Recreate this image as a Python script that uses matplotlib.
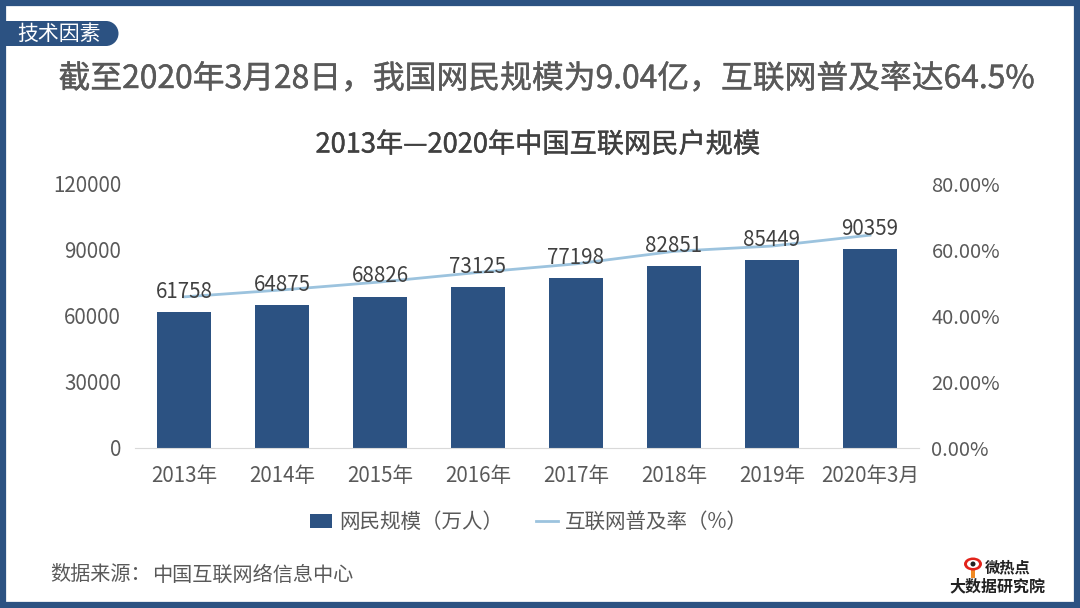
import numpy as np
import matplotlib.pyplot as plt
import matplotlib.patheffects as pe
from matplotlib.patches import Rectangle, Ellipse

plt.rcParams['font.family'] = ['Noto Sans CJK SC', 'DejaVu Sans']

barWidth = 0.55
fig = plt.figure(figsize =(10.8, 6.08), dpi = 100)

Years = ['2013年','2014年','2015年','2016年','2017年','2018年','2019年','2020年3月']
Users = [61758,64875,68826,73125,77198,82851,85449,90359]
Rate = [45.8,47.9,50.3,53.2,55.8,59.6,61.2,64.5]

#For Page Start#
plt.axes([0, 0, 1, 1])
plt.xlim(0, 1080)
plt.ylim(608, 0)
plt.axis('off')
page = plt.gca()
page.add_patch(Rectangle((3, 3), 1074, 602, fill = False, edgecolor ='#2c5282', linewidth = 4.5))
page.add_patch(Rectangle((0, 21), 106, 25, color ='#2c5282', linewidth = 0))
page.add_patch(Ellipse((106, 33.5), 25, 25, color ='#2c5282', linewidth = 0))
plt.text(59, 34, '技术因素', color ='white', fontsize = 15, ha ='center', va ='center')
thick = [pe.withStroke(linewidth = 0.3, foreground ='#595959')]
plt.text(546, 79, '截至2020年3月28日，我国网民规模为9.04亿，互联网普及率达64.5%', color ='#595959', fontsize = 22.9, ha ='center', va ='center', path_effects = thick)
thick = [pe.withStroke(linewidth = 0.3, foreground ='#404040')]
plt.text(538, 145, '2013年—2020年中国互联网民户规模', color ='#404040', fontsize = 19.6, ha ='center', va ='center', path_effects = thick)
plt.text(50, 575, '数据来源：', color ='#595959', fontsize = 14.5, va ='center')
plt.text(152, 575, '中国互联网络信息中心', color ='#595959', fontsize = 14.5, va ='center')
#logo
page.add_patch(Rectangle((971, 566), 4, 12, color ='#f08a24', linewidth = 0))
page.add_patch(Ellipse((973, 564), 18, 13, color ='#e2231a', linewidth = 0))
page.add_patch(Ellipse((973, 564), 12, 8, color ='white', linewidth = 0))
page.add_patch(Ellipse((973, 564), 5, 5, color ='#222222', linewidth = 0))
plt.text(1008, 567, '微热点', color ='#222222', fontsize = 11, fontweight ='bold', ha ='center', va ='center')
plt.text(997, 586, '大数据研究院', color ='#222222', fontsize = 11.5, fontweight ='bold', ha ='center', va ='center')
#For Page End#

#For Bar Chart Start#
plt.axes([135/1080, 1-448/608, 784/1080, 264/608], facecolor ='none')
br1 = np.arange(len(Users))
plt.bar(br1, Users, color ='#2c5282', width = barWidth, label ='网民规模（万人）')
plt.xlim(-0.5, 7.5)
plt.ylim(0, 120000)
plt.yticks([0,30000,60000,90000,120000], va ='center_baseline')
plt.xticks(br1, Years)
plt.tick_params(length = 0, labelsize = 14.8, labelcolor ='#595959')
plt.tick_params(axis ='x', pad = 12)
plt.tick_params(axis ='y', pad = 10)
ax1 = plt.gca()
for s in ['top','left','right']:
    ax1.spines[s].set_visible(False)
ax1.spines['bottom'].set_color('#d9d9d9')
#For Bar Chart End#

#For Line Chart Start#
plt.twinx()
plt.plot(br1, Rate, color ='#9cc3de', linewidth = 2, label ='互联网普及率（%）')
plt.ylim(0, 80)
plt.yticks([0,20,40,60,80], ['0.00%','20.00%','40.00%','60.00%','80.00%'], va ='center_baseline')
plt.tick_params(length = 0, labelsize = 14.5, labelcolor ='#595959', pad = 9)
ax2 = plt.gca()
for s in ['top','left','right','bottom']:
    ax2.spines[s].set_visible(False)
for i in range(len(Users)):
    plt.annotate(str(Users[i]), (i, Users[i]/1500), xytext =(0, 14.5), textcoords ='offset points', color ='#404040', fontsize = 14.8, ha ='center', va ='center')
#For Line Chart End#

plt.gcf().legend(handles = ax1.get_legend_handles_labels()[0] + ax2.get_legend_handles_labels()[0], loc ='center', bbox_to_anchor =(529/1080, 1-522/608), ncol = 2, frameon = False, fontsize = 14.8, labelcolor ='#595959', columnspacing = 1.6, handlelength = 1.05, handletextpad = 0.35)

plt.savefig('out.png', dpi = 100)
